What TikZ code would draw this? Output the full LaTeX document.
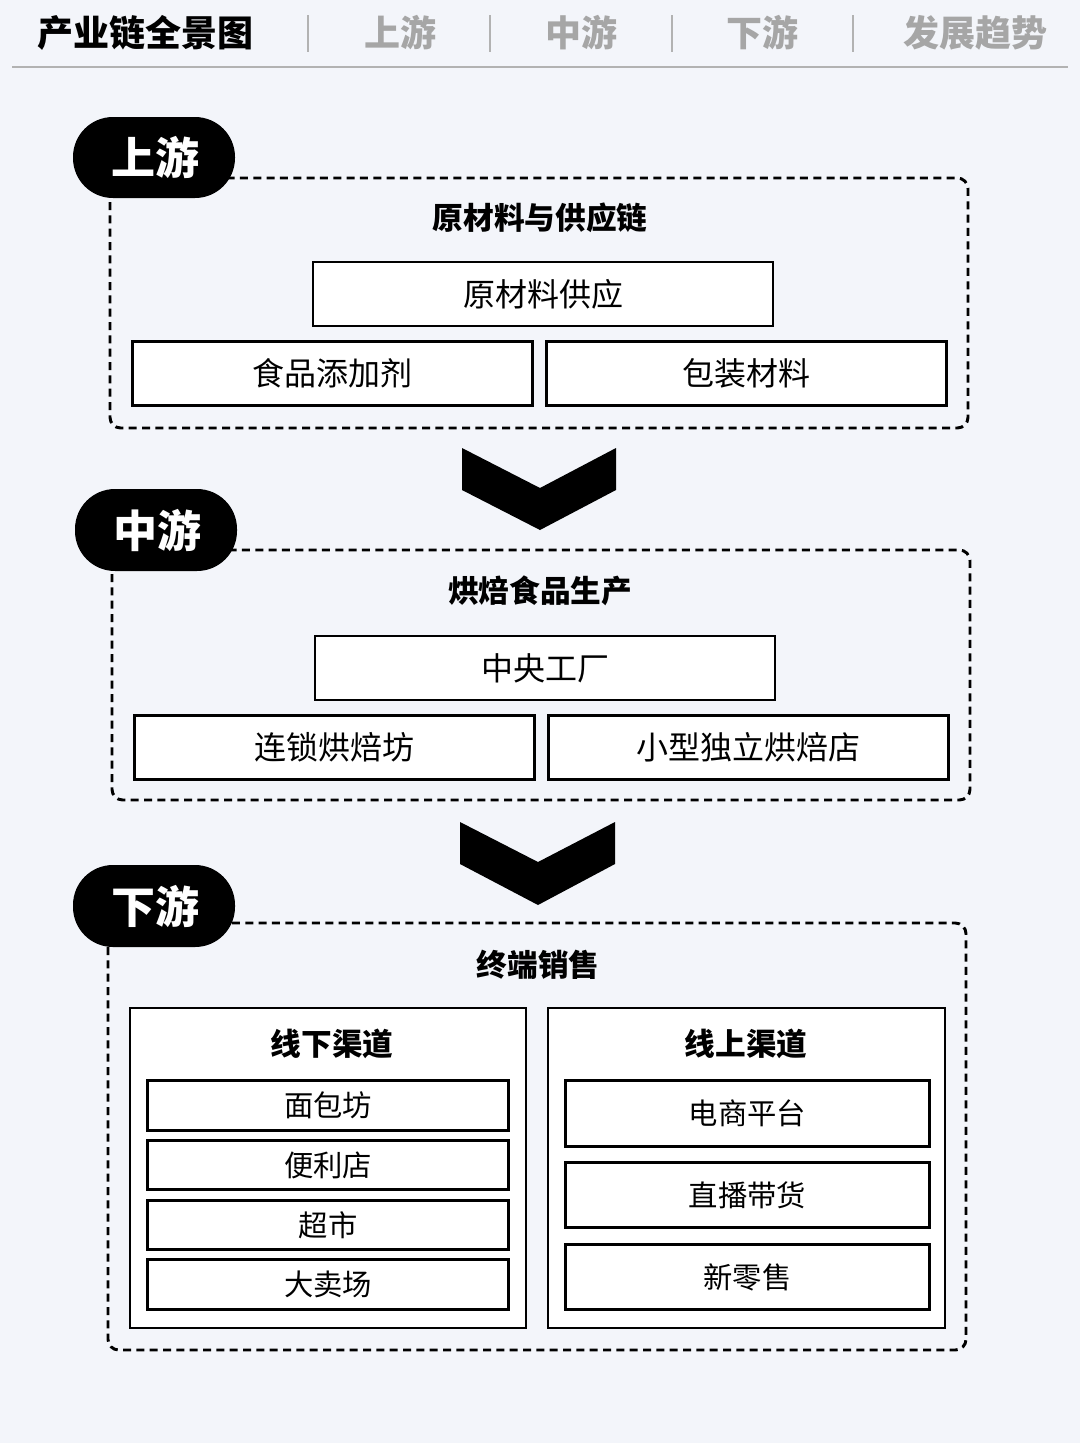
\documentclass[tikz,border=0pt]{standalone}
\usepackage{fontspec}
\setmainfont{Noto Sans CJK SC}
\newfontfamily\cjkb{Noto Sans CJK SC}[BoldFont={Noto Sans CJK SC Bold}]
\begin{document}
\begin{tikzpicture}[x=0.75pt,y=-0.75pt,
 dbox/.style={draw=black,line width=2.2pt,dash pattern=on 6pt off 4pt,rounded corners=8pt},
 sbox/.style={draw=black,line width=2.2pt,fill=white,rectangle},
 pill/.style={fill=black,rounded corners=30pt},
 pilltext/.style={text=white,font=\bfseries\fontsize{33}{36}\selectfont},
 ttl/.style={font=\bfseries\fontsize{23}{26}\selectfont},
 itm/.style={font=\fontsize{24}{28}\selectfont},
 itms/.style={font=\fontsize{22}{26}\selectfont},
 hd/.style={font=\bfseries\fontsize{27}{30}\selectfont},
 hdg/.style={font=\bfseries\fontsize{27}{30}\selectfont,text=black!35}]
\fill[fill={rgb,255:red,243;green,245;blue,250}] (0,0) rectangle (1080,1443);
\useasboundingbox (0,0) rectangle (1080,1443);
% header
\node[hd] (h0) at (145,33) {产业链全景图};
\node[hdg] (h1) at (400,33) {上游};
\node[hdg] (h2) at (581,33) {中游};
\node[hdg] (h3) at (762,33) {下游};
\node[hdg] (h4) at (975,33) {发展趋势};
\foreach \x in {308,490,672,853} \draw[black!30,line width=1pt] (\x,15) -- (\x,52);
\draw[black!30,line width=1.2pt] (12,67) -- (1068,67);
% section 1
\draw[dbox] (110,178) rectangle (968,428);
\fill[pill] (73,117) rectangle (235,198);
\node[pilltext] (p1) at (155,157) {上游};
\node[ttl] (t1) at (540,218) {原材料与供应链};
\node[sbox,minimum width=345pt,minimum height=48pt,itm] (a1) at (543,294) {原材料供应};
\node[sbox,minimum width=300pt,minimum height=48pt,itm] (a2) at (332.5,373.5) {食品添加剂};
\node[sbox,minimum width=300pt,minimum height=48pt,itm] (a3) at (746.5,373.5) {包装材料};
\fill (462,448) -- (540,488) -- (616,448) -- (616,490) -- (540,530) -- (462,490) -- cycle;
% section 2
\draw[dbox] (112,550) rectangle (970,800);
\fill[pill] (75,489) rectangle (237,571);
\node[pilltext] (p2) at (157,530) {中游};
\node[ttl] (t2) at (540,591) {烘焙食品生产};
\node[sbox,minimum width=345pt,minimum height=48pt,itm] (b1) at (545,668) {中央工厂};
\node[sbox,minimum width=300pt,minimum height=48pt,itm] (b2) at (334.5,747.5) {连锁烘焙坊};
\node[sbox,minimum width=300pt,minimum height=48pt,itm] (b3) at (748.5,747.5) {小型独立烘焙店};
\fill (460,822) -- (538,862) -- (615,822) -- (615,864) -- (538,905) -- (460,864) -- cycle;
% section 3
\draw[dbox] (108,923) rectangle (966,1350);
\fill[pill] (73,865) rectangle (235,947);
\node[pilltext] (p3) at (155,906) {下游};
\node[ttl] (t3) at (538,965) {终端销售};
\draw[sbox] (130,1008) rectangle (526,1328);
\draw[sbox] (548,1008) rectangle (945,1328);
\node[ttl] (l0) at (332,1044) {线下渠道};
\node[ttl] (r0) at (746,1044) {线上渠道};
\node[sbox,minimum width=271pt,minimum height=37pt,itms] (l1) at (328,1105.5) {面包坊};
\node[sbox,minimum width=271pt,minimum height=37pt,itms] (l2) at (328,1165) {便利店};
\node[sbox,minimum width=271pt,minimum height=37pt,itms] (l3) at (328,1225) {超市};
\node[sbox,minimum width=271pt,minimum height=37pt,itms] (l4) at (328,1284.5) {大卖场};
\node[sbox,minimum width=273pt,minimum height=49pt,itms] (r1) at (747.5,1113.5) {电商平台};
\node[sbox,minimum width=273pt,minimum height=49pt,itms] (r2) at (747.5,1195) {直播带货};
\node[sbox,minimum width=273pt,minimum height=49pt,itms] (r3) at (747.5,1277) {新零售};
\end{tikzpicture}
\end{document}
